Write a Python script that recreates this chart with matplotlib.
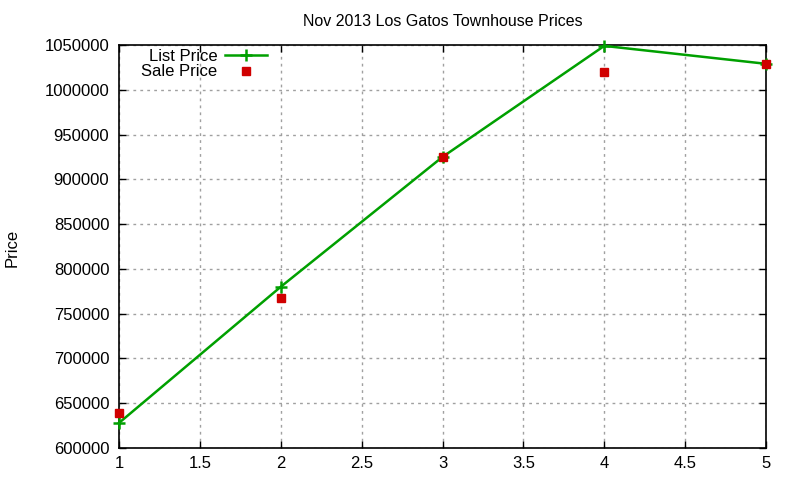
import matplotlib
matplotlib.use("Agg")
import matplotlib.pyplot as plt
from matplotlib.ticker import MultipleLocator, FuncFormatter

plt.rcParams['font.family'] = ['Liberation Sans', 'DejaVu Sans']

x = [1, 2, 3, 4, 5]
list_price = [628000, 780000, 925000, 1049000, 1029000]
sale_price = [639000, 768000, 925000, 1020000, 1029000]

fig = plt.figure(figsize=(8, 4.8), dpi=100)
ax = fig.add_axes([119/800, 1-448/480, (766-119)/800, (448-45)/480])

ax.plot(x, list_price, color='#00a000', lw=1.8, marker='+', ms=8, mew=1.8,
        label='List Price', clip_on=False, zorder=3)
ax.plot(x, sale_price, ls='none', marker='s', ms=6, color='#d00000',
        label='Sale Price', clip_on=False, zorder=4)

ax.set_xlim(1, 5)
ax.set_ylim(600000, 1050000)
ax.xaxis.set_major_locator(MultipleLocator(0.5))
ax.yaxis.set_major_locator(MultipleLocator(50000))
ax.xaxis.set_major_formatter(FuncFormatter(lambda v, p: f"{v:g}"))
ax.yaxis.set_major_formatter(FuncFormatter(lambda v, p: f"{int(v)}"))
ax.tick_params(direction='in', top=True, right=True, length=5, width=1,
               labelsize=12, colors='black')
ax.tick_params(axis='y', pad=7)
ax.tick_params(axis='x', pad=6)
ax.grid(True, color='#a0a0a0', ls=(0, (2, 3)), lw=1)
for s in ax.spines.values():
    s.set_linewidth(1.2)

ax.set_title('Nov 2013 Los Gatos Townhouse Prices', fontsize=11.5, pad=14)
fig.text(12/800, 1-248/480, 'Price', rotation=90, fontsize=12,
         ha='center', va='center')

leg = ax.legend(loc='upper left', bbox_to_anchor=(0.016, 1.02), frameon=False,
                markerfirst=False, fontsize=12, handlelength=2.5,
                handletextpad=0.5, labelspacing=0.05, borderaxespad=0.3)
for t in leg.get_texts():
    t.set_ha('right')

fig.savefig('out.png', dpi=100)
